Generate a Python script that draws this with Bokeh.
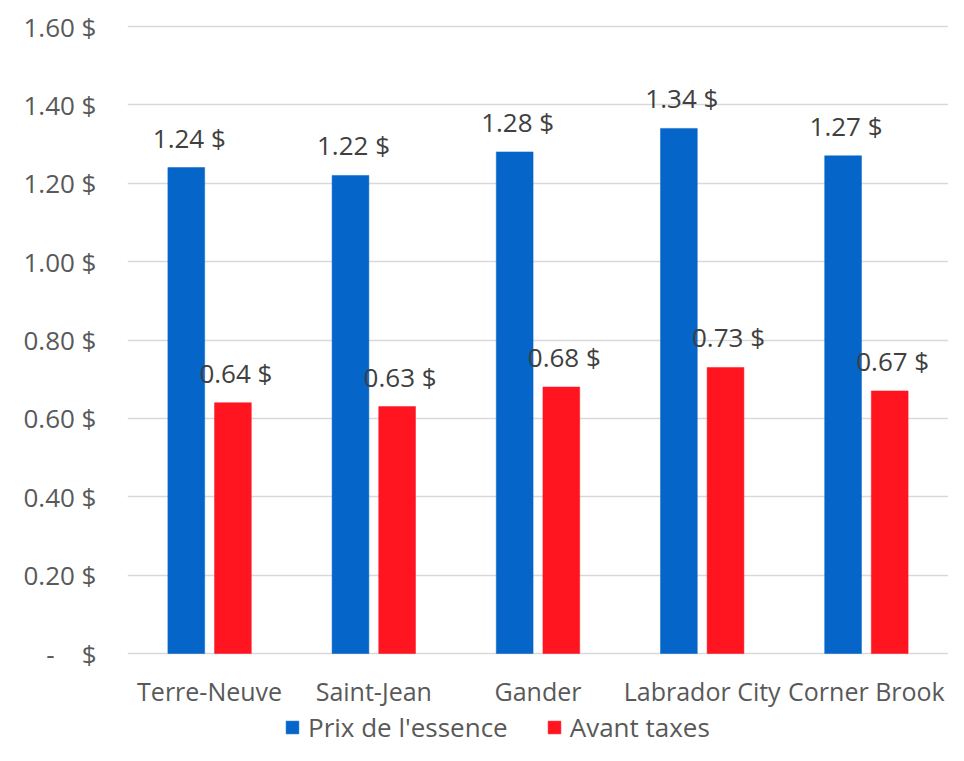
from bokeh.plotting import figure
from bokeh.models import FactorRange, ColumnDataSource, FixedTicker, Legend, LegendItem, Range1d
from bokeh.transform import dodge
from bokeh.core.properties import value
from bokeh.embed import file_html
from bokeh.resources import INLINE

cities = ["Terre-Neuve", "Saint-Jean", "Gander", "Labrador City", "Corner Brook"]
prix = [1.24, 1.22, 1.28, 1.34, 1.27]
avant_taxes = [0.64, 0.63, 0.68, 0.73, 0.67]
prix_labels = ["1.24 $", "1.22 $", "1.28 $", "1.34 $", "1.27 $"]
avant_labels = ["0.64 $", "0.63 $", "0.68 $", "0.73 $", "0.67 $"]
ytick_values = [0, 0.2, 0.4, 0.6, 0.8, 1.0, 1.2, 1.4, 1.6]
ytick_labels = ["-\u00a0\u00a0\u00a0\u00a0$", "0.20 $", "0.40 $", "0.60 $", "0.80 $",
                "1.00 $", "1.20 $", "1.40 $", "1.60 $"]
series_names = ["Prix de l'essence", "Avant taxes"]

BLUE = "#0565C9"
RED = "#FF1520"
FONT = "Open Sans"
FS = "26px"
W, H = 948, 745

# layout in pixels
frame_left = 127
frame_top = 24          # a little above the 1.60 gridline
y_top_px = 26           # pixel row of the 1.60 gridline
y_zero_px = 653         # pixel row of the zero line
ppu = (y_zero_px - y_top_px) / 1.6
y_end = 1.6 + (y_top_px - frame_top) / ppu
y_start = -(H - y_zero_px) / ppu

src = ColumnDataSource(dict(city=cities, prix=prix, avant=avant_taxes,
                            pl=prix_labels, al=avant_labels))

p = figure(x_range=FactorRange(*cities), y_range=Range1d(y_start, y_end),
           width=W, height=H, output_backend="svg", toolbar_location=None,
           min_border_left=frame_left, min_border_right=0,
           min_border_top=frame_top, min_border_bottom=0,
           x_axis_location=None)
p.outline_line_color = None
p.background_fill_color = "white"
p.border_fill_color = "white"

bw = 0.224
off = 0.142
r1 = p.vbar(x=dodge("city", -off, range=p.x_range), top="prix", width=bw, source=src,
            fill_color=BLUE, line_color=BLUE, line_width=0.5)
r2 = p.vbar(x=dodge("city", off, range=p.x_range), top="avant", width=bw, source=src,
            fill_color=RED, line_color=RED, line_width=0.5)

# value labels
p.text(x=dodge("city", -off, range=p.x_range), y="prix", text="pl", source=src,
       text_align="center", text_baseline="alphabetic", y_offset=-30, x_offset=3,
       text_font=value(FONT), text_font_size=FS, text_color="#404040")
p.text(x=dodge("city", off, range=p.x_range), y="avant", text="al", source=src,
       text_align="center", text_baseline="alphabetic", y_offset=-30, x_offset=3,
       text_font=value(FONT), text_font_size=FS, text_color="#404040")

# category labels (x axis)
cat_src = ColumnDataSource(dict(city=cities, y=[0] * len(cities)))
p.text(x="city", y="y", text="city", source=cat_src,
       text_align="center", text_baseline="alphabetic", y_offset=37,
       text_font=value(FONT), text_font_size="25px", text_color="#595959")

# y axis
p.yaxis.ticker = FixedTicker(ticks=ytick_values)
p.yaxis.major_label_overrides = {v: l for v, l in zip(ytick_values, ytick_labels)}
p.yaxis.axis_line_color = None
p.yaxis.major_tick_line_color = None
p.yaxis.minor_tick_line_color = None
p.yaxis.major_label_standoff = 25
p.yaxis.major_label_text_font = FONT
p.yaxis.major_label_text_font_size = FS
p.yaxis.major_label_text_color = "#595959"

p.xgrid.grid_line_color = None
p.ygrid.ticker = FixedTicker(ticks=ytick_values)
p.ygrid.grid_line_color = "#D9D9D9"
p.ygrid.grid_line_width = 1.5

legend = Legend(items=[LegendItem(label=series_names[0], renderers=[r1]),
                       LegendItem(label=series_names[1], renderers=[r2])],
                orientation="horizontal", location=(284 - frame_left, 0),
                glyph_width=16, glyph_height=16, spacing=38, label_standoff=8,
                padding=0, margin=0, border_line_color=None, background_fill_alpha=0,
                label_text_font=FONT, label_text_font_size=FS,
                label_text_color="#595959")
p.add_layout(legend, "center")

open("out.html", "w").write(file_html(p, INLINE))
